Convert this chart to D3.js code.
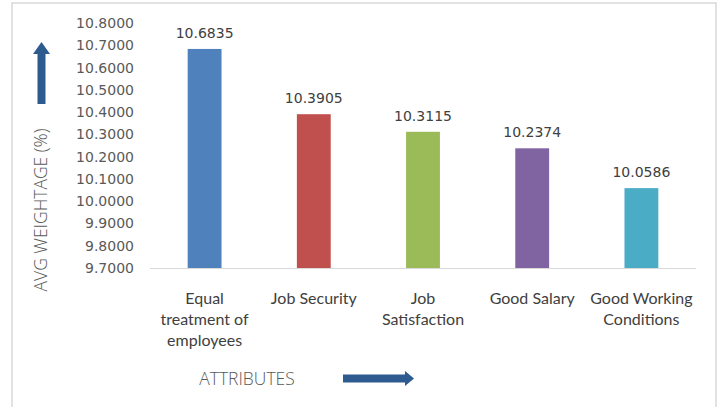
<!DOCTYPE html>
<html>
<head>
<meta charset="utf-8">
<script src="https://cdn.jsdelivr.net/npm/d3@7"></script>
<style>
  html, body { margin: 0; padding: 0; background: #fff; }
  svg { display: block; }
</style>
</head>
<body>
<svg id="chart" width="720" height="407"></svg>
<script>
// ---- data ----
const categories = ["Equal treatment of employees", "Job Security", "Job Satisfaction", "Good Salary", "Good Working Conditions"];
const categoryLines = [["Equal", "treatment of", "employees"], ["Job Security"], ["Job", "Satisfaction"], ["Good Salary"], ["Good Working", "Conditions"]];
const values = [10.6835, 10.3905, 10.3115, 10.2374, 10.0586];
const barColors = ["#4F81BD", "#C0504D", "#9BBB59", "#8064A2", "#4BACC6"];
const yTicks = [9.7, 9.8, 9.9, 10.0, 10.1, 10.2, 10.3, 10.4, 10.5, 10.6, 10.7, 10.8];
const yTitle = "AVG WEIGHTAGE (%)";
const xTitle = "ATTRIBUTES";

const svg = d3.select("#chart");
const arrowColor = "#2E5B8F";

// frame
svg.append("rect").attr("x", 12).attr("y", 3).attr("width", 704).attr("height", 420)
  .attr("fill", "#fff").attr("stroke", "#D9D9D9").attr("stroke-width", 1.5);

const x = d3.scaleBand().domain(categories).range([150, 696]).paddingInner(0.69).paddingOuter(0.345);
const y = d3.scaleLinear().domain([9.7, 10.8]).range([268, 23]);

// y tick labels
const yAxis = d3.axisLeft(y).tickValues(yTicks).tickFormat(d3.format(".4f")).tickSize(0).tickPadding(0);
const gy = svg.append("g").attr("transform", "translate(134,0)").call(yAxis);
gy.select(".domain").remove();
gy.selectAll("text").attr("font-family", "DejaVu Sans").attr("font-size", 14).attr("fill", "#595959");

// bars
svg.append("g").selectAll("rect").data(values).join("rect")
  .attr("x", (d, i) => x(categories[i]))
  .attr("y", d => y(d))
  .attr("width", x.bandwidth())
  .attr("height", d => y(9.7) - y(d))
  .attr("fill", (d, i) => barColors[i]);

// x axis line
const xAxis = d3.axisBottom(x).tickSize(0).tickFormat("");
const gx = svg.append("g").attr("transform", `translate(0,${y(9.7)})`).call(xAxis);
gx.select(".domain").attr("stroke", "#D9D9D9").attr("stroke-width", 1).attr("d", "M150,0.5H696");

// data labels
svg.append("g").selectAll("text").data(values).join("text")
  .attr("x", (d, i) => x(categories[i]) + x.bandwidth() / 2)
  .attr("y", d => y(d) - 11)
  .attr("text-anchor", "middle")
  .attr("font-family", "DejaVu Sans").attr("font-size", 14).attr("fill", "#404040")
  .text(d => d3.format(".4f")(d));

// category labels
const cat = svg.append("g").selectAll("text").data(categoryLines).join("text")
  .attr("text-anchor", "middle")
  .attr("font-family", "Lato").attr("font-size", 16).attr("fill", "#404040")
  .attr("transform", (d, i) => `translate(${x(categories[i]) + x.bandwidth() / 2},304)`);
cat.selectAll("tspan").data(d => d).join("tspan")
  .attr("x", 0).attr("dy", (d, j) => j === 0 ? 0 : 21).text(d => d);

// y title
svg.append("text")
  .attr("transform", "translate(47,210) rotate(-90)")
  .attr("text-anchor", "middle")
  .attr("font-family", "Open Sans").attr("font-weight", 300).attr("font-size", 17.5).attr("fill", "#595959")
  .text(yTitle);

// x title
svg.append("text")
  .attr("x", 247).attr("y", 384.5)
  .attr("text-anchor", "middle")
  .attr("font-family", "Open Sans").attr("font-weight", 300).attr("font-size", 17.5).attr("fill", "#595959")
  .text(xTitle);

// arrows
svg.append("path")
  .attr("d", "M343,374.5H405V371L414,378.5L405,386V382.5H343Z")
  .attr("fill", arrowColor);
svg.append("path")
  .attr("d", "M37.5,104V54H33L41.5,42L50,54H45.5V104Z")
  .attr("fill", arrowColor);
</script>
</body>
</html>
